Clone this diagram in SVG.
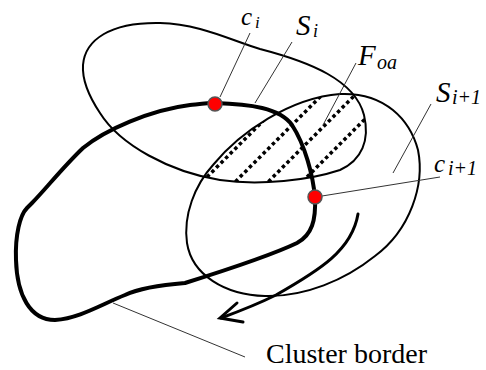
<svg xmlns="http://www.w3.org/2000/svg" width="486" height="370" viewBox="0 0 486 370">
<style>
.outline{fill:none;stroke:#000;stroke-width:2;stroke-linejoin:round}
.border{fill:none;stroke:#000;stroke-width:4;stroke-linejoin:round;stroke-linecap:round}
.arrow{fill:none;stroke:#000;stroke-width:3;stroke-linecap:round;stroke-linejoin:miter}
.hatch{stroke:#000;stroke-width:3.5;stroke-dasharray:3.5 3;fill:none}
.leader{stroke:#333;stroke-width:1;fill:none}
.pt{fill:#ff0000;stroke:#555;stroke-width:1.5}
text{fill:#000}
</style>
<defs>
<path id="pSi" d="M 83,65 C 85,40 110,22 160,23 C 200,24 230,40 260,49 C 310,62 355,80 364,115 C 370,140 362,160 340,170 C 310,180 260,186 220,180 C 170,172 120,145 100,113 C 88,95 82,80 83,65 Z"/>
<path id="pSi1" d="M 187,243 C 183,215 195,185 213,165 C 240,132 290,98 340,94 C 385,92 410,120 418,150 C 425,185 410,230 375,256 C 345,280 305,297 265,296 C 225,295 192,275 187,243 Z"/>
<clipPath id="clipSi"><use href="#pSi"/></clipPath>
<clipPath id="clipSi1"><use href="#pSi1"/></clipPath>
</defs>

<g id="F_oa">
<g clip-path="url(#clipSi)"><g clip-path="url(#clipSi1)">
<line class="hatch" x1="184" y1="200" x2="304" y2="80"/>
<line class="hatch" x1="217" y1="200" x2="337" y2="80"/>
<line class="hatch" x1="250" y1="200" x2="370" y2="80"/>
<line class="hatch" x1="284" y1="200" x2="404" y2="80"/>
<line class="hatch" x1="317" y1="200" x2="437" y2="80"/>
</g></g>
</g>

<g id="S_i"><use href="#pSi" class="outline"/></g>
<g id="S_i1"><use href="#pSi1" class="outline"/></g>

<g id="cluster_border">
<path class="border" d="M 32,203 C 45,190 62,168 83,148 C 105,130 150,110 190,105 C 200,104 208,103 215,103 C 250,104 280,108 292,125 C 305,145 313,175 315,198 C 316,220 312,235 297,243 C 270,256 220,272 185,283 C 160,285 140,288 125,295 C 100,305 80,318 55,320 C 30,320 17,295 16,260 C 15,235 20,215 27,208 L 32,203"/>
</g>

<g id="direction_arrow">
<path class="arrow" d="M 358,214 C 352,250 320,270 276,295 C 260,303 240,311 221,318"/>
<path class="arrow" d="M 237,303 L 220,318 L 243,322"/>
</g>

<g id="connectors">
<line class="leader" x1="220" y1="97" x2="250" y2="33"/>
<line class="leader" x1="255" y1="103" x2="292" y2="42"/>
<line class="leader" x1="323" y1="125" x2="356" y2="63"/>
<line class="leader" x1="393" y1="173" x2="431" y2="104"/>
<line class="leader" x1="322" y1="196" x2="440" y2="177"/>
<line class="leader" x1="113" y1="303" x2="245" y2="357"/>
</g>

<g id="c_i">
<circle class="pt" cx="215" cy="104" r="7"/>
<text font-family="Liberation Serif, serif" font-style="italic" x="241" y="25" font-size="25">c<tspan x="255" y="28" font-size="17">i</tspan></text>
</g>
<g id="c_i1">
<circle class="pt" cx="315" cy="197" r="7"/>
<text font-family="Liberation Serif, serif" font-style="italic" x="434" y="172" font-size="25">c<tspan x="448" y="175" font-size="20">i+1</tspan></text>
</g>
<g id="label_S_i">
<text font-family="Liberation Serif, serif" font-style="italic" x="296" y="35" font-size="29">S<tspan x="313" y="37" font-size="18">i</tspan></text>
</g>
<g id="label_F_oa">
<text font-family="Liberation Serif, serif" font-style="italic" x="358" y="65" font-size="29">F<tspan x="377" y="69" font-size="20">oa</tspan></text>
</g>
<g id="label_S_i1">
<text font-family="Liberation Serif, serif" font-style="italic" x="436" y="102" font-size="29">S<tspan x="452" y="104" font-size="20">i+1</tspan></text>
</g>
<g id="label_cluster">
<text font-family="Liberation Serif, serif" x="266" y="363" font-size="28">Cluster border</text>
</g>
</svg>
